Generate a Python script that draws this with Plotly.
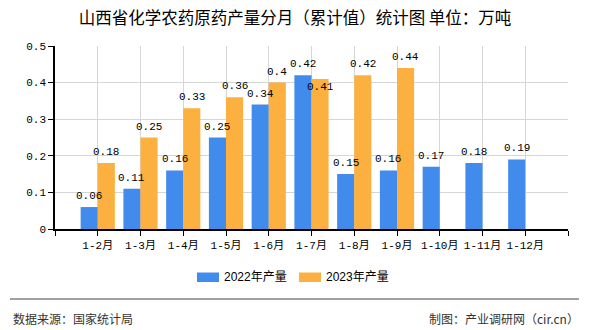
import plotly.graph_objects as go

months = ["1-2月", "1-3月", "1-4月", "1-5月", "1-6月", "1-7月", "1-8月", "1-9月", "1-10月", "1-11月", "1-12月"]
values_2022 = [0.06, 0.11, 0.16, 0.25, 0.34, 0.42, 0.15, 0.16, 0.17, 0.18, 0.19]
values_2023 = [0.18, 0.25, 0.33, 0.36, 0.4, 0.41, 0.42, 0.44, None, None, None]
name_2022 = "2022年产量"
name_2023 = "2023年产量"
y_ticks = [0, 0.1, 0.2, 0.3, 0.4, 0.5]

BLUE = "#418BEC"
ORANGE = "#FBB03F"
MONO = "Liberation Mono, Noto Sans CJK SC, monospace"
CJK = "Noto Sans CJK SC, sans-serif"

W, H = 590, 330
ML, MR, MT, MB = 55, 22, 46, 101
PW = W - ML - MR
PH = H - MT - MB

def px_x(px):
    return (px - ML) / PW

def px_y(py):
    return (H - MB - py) / PH

xs = list(range(len(months)))

fig = go.Figure()
fig.add_trace(go.Bar(x=xs, y=values_2022, name=name_2022, marker_color=BLUE,
                     marker_line_width=0, showlegend=False))
fig.add_trace(go.Bar(x=xs, y=values_2023, name=name_2023, marker_color=ORANGE,
                     marker_line_width=0, showlegend=False))

annotations = []
def fmt(v):
    return ("%g" % v)

for i, (a, b) in enumerate(zip(values_2022, values_2023)):
    if a is not None:
        annotations.append(dict(x=i - 0.2, y=a, text=fmt(a), showarrow=False,
                                xref="x", yref="y", yanchor="bottom", yshift=3,
                                font=dict(family=MONO, size=11, color="#000")))
    if b is not None:
        below = a is not None and b < a and (a - b) < 0.02
        annotations.append(dict(x=i + 0.2, y=b, text=fmt(b), showarrow=False,
                                xref="x", yref="y",
                                yanchor="top" if below else "bottom",
                                yshift=0 if below else 3,
                                font=dict(family=MONO, size=11, color="#000")))

annotations.append(dict(text="数据来源：国家统计局", x=px_x(11), y=px_y(318),
                        xref="paper", yref="paper", xanchor="left", yanchor="middle",
                        showarrow=False, font=dict(family=CJK, size=12, color="#333")))
annotations.append(dict(text="制图：产业调研网（cir.cn）", x=px_x(581), y=px_y(318),
                        xref="paper", yref="paper", xanchor="right", yanchor="middle",
                        showarrow=False, font=dict(family=CJK, size=12, color="#333")))

shapes = [dict(type="line", xref="paper", yref="paper",
               x0=px_x(10), x1=px_x(579), y0=px_y(299), y1=px_y(299),
               line=dict(color="#808080", width=1.5))]

# manual legend (swatch + label)
legend_items = [(name_2022, BLUE, 197), (name_2023, ORANGE, 299)]
for name, color, x0 in legend_items:
    shapes.append(dict(type="rect", xref="paper", yref="paper",
                       x0=px_x(x0), x1=px_x(x0 + 22), y0=px_y(282), y1=px_y(272.5),
                       fillcolor=color, line=dict(width=0)))
    annotations.append(dict(text=name, x=px_x(x0 + 25), y=px_y(277),
                            xref="paper", yref="paper", xanchor="left", yanchor="middle",
                            showarrow=False,
                            font=dict(family="Liberation Sans, Noto Sans CJK SC", size=12, color="#000")))

fig.update_layout(
    width=W, height=H,
    margin=dict(l=ML, r=MR, t=MT, b=MB, autoexpand=False),
    paper_bgcolor="white", plot_bgcolor="white",
    barmode="group", bargap=0.2, bargroupgap=0,
    showlegend=False,
    title=dict(text="山西省化学农药原药产量分月（累计值）统计图 单位：万吨",
               x=0.5, xref="container", xanchor="center",
               y=1 - 18 / H, yref="container", yanchor="middle",
               font=dict(family=CJK, size=16.5, color="#000")),
    annotations=annotations,
    shapes=shapes,
    xaxis=dict(range=[-1, len(months)], tickmode="array",
               tickvals=[-1] + xs + [len(months)],
               ticktext=[""] + months + [""],
               tickangle=0, automargin=False,
               showgrid=True, gridcolor="#d6d6d6", gridwidth=1,
               showline=True, linecolor="#000", linewidth=1.5,
               ticks="outside", ticklen=5, tickcolor="#000",
               tickfont=dict(family=MONO, size=11, color="#000"),
               zeroline=False, fixedrange=True),
    yaxis=dict(range=[0, 0.5], tickmode="array", tickvals=y_ticks,
               ticktext=[fmt(v) for v in y_ticks], automargin=False,
               showgrid=True, gridcolor="#d6d6d6", gridwidth=1,
               showline=True, linecolor="#000", linewidth=1.5,
               ticks="outside", ticklen=5, tickcolor="#000",
               tickfont=dict(family=MONO, size=11, color="#000"),
               zeroline=False, fixedrange=True),
)

fig.write_html("out.html")
